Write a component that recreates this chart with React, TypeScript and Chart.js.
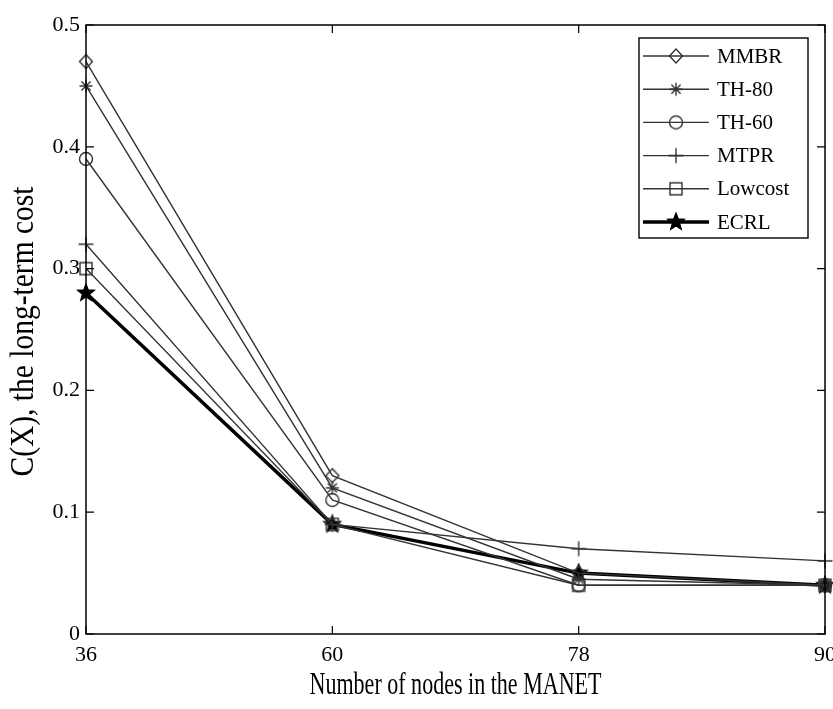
import React, { useEffect, useRef } from 'react';
import { Chart, registerables } from 'chart.js';

Chart.register(...registerables);

// Network sizes on the x axis
const nodeCounts = ['36', '60', '78', '90'];

// Long-term cost C(X) per routing scheme
const mmbr = [0.47, 0.13, 0.05, 0.04];
const th80 = [0.45, 0.12, 0.045, 0.04];
const th60 = [0.39, 0.11, 0.04, 0.04];
const mtpr = [0.32, 0.09, 0.07, 0.06];
const lowcost = [0.3, 0.09, 0.04, 0.04];
const ecrl = [0.28, 0.09, 0.05, 0.04];

const yTicks = [0, 0.1, 0.2, 0.3, 0.4, 0.5];

const seriesNames = ['MMBR', 'TH-80', 'TH-60', 'MTPR', 'Lowcost', 'ECRL'];

const SERIF = '"Liberation Serif", "Times New Roman", serif';
const LINE = '#333333';

type MarkerKind = 'diamond' | 'asterisk' | 'circle' | 'plus' | 'square' | 'pentagram';

function makeMarker(kind: MarkerKind, color: string): HTMLCanvasElement {
  const size = 20;
  const c = document.createElement('canvas');
  c.width = size;
  c.height = size;
  const g = c.getContext('2d')!;
  const m = size / 2;
  g.strokeStyle = color;
  g.fillStyle = color;
  g.lineWidth = 1.4;
  g.beginPath();
  if (kind === 'diamond') {
    g.moveTo(m, m - 7);
    g.lineTo(m + 6.5, m);
    g.lineTo(m, m + 7);
    g.lineTo(m - 6.5, m);
    g.closePath();
    g.stroke();
  } else if (kind === 'asterisk') {
    const r = 6.5;
    const d = r * 0.707;
    g.moveTo(m - r, m); g.lineTo(m + r, m);
    g.moveTo(m, m - r); g.lineTo(m, m + r);
    g.moveTo(m - d, m - d); g.lineTo(m + d, m + d);
    g.moveTo(m - d, m + d); g.lineTo(m + d, m - d);
    g.stroke();
  } else if (kind === 'circle') {
    g.arc(m, m, 6.5, 0, Math.PI * 2);
    g.stroke();
  } else if (kind === 'plus') {
    const r = 7.5;
    g.moveTo(m - r, m); g.lineTo(m + r, m);
    g.moveTo(m, m - r); g.lineTo(m, m + r);
    g.stroke();
  } else if (kind === 'square') {
    g.rect(m - 6, m - 6, 12, 12);
    g.stroke();
  } else {
    const outer = 8.5;
    const inner = 3.6;
    for (let i = 0; i < 10; i++) {
      const r = i % 2 === 0 ? outer : inner;
      const a = -Math.PI / 2 + (i * Math.PI) / 5;
      const x = m + r * Math.cos(a);
      const y = m + r * Math.sin(a);
      if (i === 0) g.moveTo(x, y);
      else g.lineTo(x, y);
    }
    g.closePath();
    g.fill();
    g.lineWidth = 1.6;
    g.stroke();
  }
  return c;
}

// Box around the axes with inward tick marks on all four sides
const framePlugin = {
  id: 'frame',
  afterDatasetsDraw(chart: any) {
    const { ctx, chartArea } = chart;
    const { left, right, top, bottom } = chartArea;
    const xs = chart.scales.x;
    const ys = chart.scales.y;
    const tl = 8;
    ctx.save();
    ctx.strokeStyle = '#000';
    ctx.lineWidth = 1.5;
    ctx.strokeRect(left, top, right - left, bottom - top);
    ctx.lineWidth = 1.2;
    ctx.beginPath();
    yTicks.forEach((v) => {
      const y = ys.getPixelForValue(v);
      ctx.moveTo(left, y); ctx.lineTo(left + tl, y);
      ctx.moveTo(right, y); ctx.lineTo(right - tl, y);
    });
    nodeCounts.forEach((_, i) => {
      const x = xs.getPixelForValue(i);
      ctx.moveTo(x, bottom); ctx.lineTo(x, bottom - tl);
      ctx.moveTo(x, top); ctx.lineTo(x, top + tl);
    });
    ctx.stroke();
    ctx.restore();
  },
};

// Axis titles drawn in a condensed serif face
function drawCondensed(ctx: CanvasRenderingContext2D, text: string, cx: number, cy: number, size: number, length: number, rotate: boolean) {
  ctx.save();
  ctx.font = `${size}px ${SERIF}`;
  ctx.fillStyle = '#000';
  ctx.textAlign = 'center';
  ctx.textBaseline = 'middle';
  const w = ctx.measureText(text).width;
  ctx.translate(cx, cy);
  if (rotate) ctx.rotate(-Math.PI / 2);
  ctx.scale(length / w, 1);
  ctx.fillText(text, 0, 0);
  ctx.restore();
}

const titlePlugin = {
  id: 'axisTitles',
  afterDraw(chart: any) {
    const { ctx, chartArea } = chart;
    const cx = (chartArea.left + chartArea.right) / 2;
    const cy = (chartArea.top + chartArea.bottom) / 2;
    drawCondensed(ctx, 'Number of nodes in the MANET', cx, 686, 31, 292, false);
    drawCondensed(ctx, 'C(X), the long-term cost', 24, cy + 2, 34, 290, true);
  },
};

// Boxed legend in the upper-right corner of the axes
const boxLegendPlugin = {
  id: 'boxLegend',
  afterDraw(chart: any) {
    const { ctx, chartArea } = chart;
    const bx = chartArea.right - 186;
    const by = chartArea.top + 13;
    const bw = 169;
    const bh = 200;
    ctx.save();
    ctx.fillStyle = '#fff';
    ctx.fillRect(bx, by, bw, bh);
    ctx.strokeStyle = '#000';
    ctx.lineWidth = 1.4;
    ctx.strokeRect(bx, by, bw, bh);
    ctx.font = `21px ${SERIF}`;
    ctx.textBaseline = 'middle';
    ctx.textAlign = 'left';
    chart.data.datasets.forEach((ds: any, i: number) => {
      const y = by + 18 + i * 33.2;
      ctx.strokeStyle = ds.borderColor;
      ctx.lineWidth = ds.borderWidth;
      ctx.beginPath();
      ctx.moveTo(bx + 4, y);
      ctx.lineTo(bx + 70, y);
      ctx.stroke();
      const img = ds.pointStyle as HTMLCanvasElement;
      ctx.drawImage(img, bx + 37 - img.width / 2, y - img.height / 2);
      ctx.fillStyle = '#000';
      ctx.fillText(ds.label, bx + 78, y + 1);
    });
    ctx.restore();
  },
};

export default function App() {
  const canvasRef = useRef<HTMLCanvasElement | null>(null);

  useEffect(() => {
    const canvas = canvasRef.current;
    if (!canvas) return;
    const kinds: MarkerKind[] = ['diamond', 'asterisk', 'circle', 'plus', 'square', 'pentagram'];
    const values = [mmbr, th80, th60, mtpr, lowcost, ecrl];
    const datasets = values.map((data, i) => {
      const bold = i === 5;
      const color = bold ? '#000' : LINE;
      return {
        label: seriesNames[i],
        data,
        borderColor: color,
        backgroundColor: color,
        borderWidth: bold ? 3.5 : 1.4,
        pointStyle: makeMarker(kinds[i], color),
        tension: 0,
        clip: false as any,
      };
    });

    const chart = new Chart(canvas, {
      type: 'line',
      data: { labels: nodeCounts, datasets },
      options: {
        animation: false,
        responsive: false,
        maintainAspectRatio: false,
        layout: { padding: { top: 25, right: 8, left: 0, bottom: 0 } },
        plugins: { legend: { display: false }, tooltip: { enabled: false } },
        scales: {
          x: {
            type: 'category',
            offset: false,
            grid: { display: false, drawTicks: false },
            border: { display: false },
            ticks: { color: '#000', font: { family: SERIF, size: 22 }, padding: 8, maxRotation: 0 },
            afterFit: (s: any) => {
              s.height = 75;
              s.paddingLeft = 0;
              s.paddingRight = 0;
            },
          },
          y: {
            min: 0,
            max: 0.5,
            grid: { display: false, drawTicks: false },
            border: { display: false },
            ticks: {
              stepSize: 0.1,
              color: '#000',
              font: { family: SERIF, size: 22 },
              padding: 6,
              callback: (v: any) => (Number(v) === 0 ? '0' : Number(v).toFixed(1)),
            },
            afterFit: (s: any) => {
              s.width = 86;
              s.paddingTop = 0;
              s.paddingBottom = 0;
            },
          },
        },
      },
      plugins: [framePlugin, titlePlugin, boxLegendPlugin],
    });
    return () => chart.destroy();
  }, []);

  return (
    <div style={{ position: 'fixed', left: 0, top: 0, width: 833, height: 709, background: '#fff' }}>
      <canvas ref={canvasRef} width={833} height={709} />
    </div>
  );
}
